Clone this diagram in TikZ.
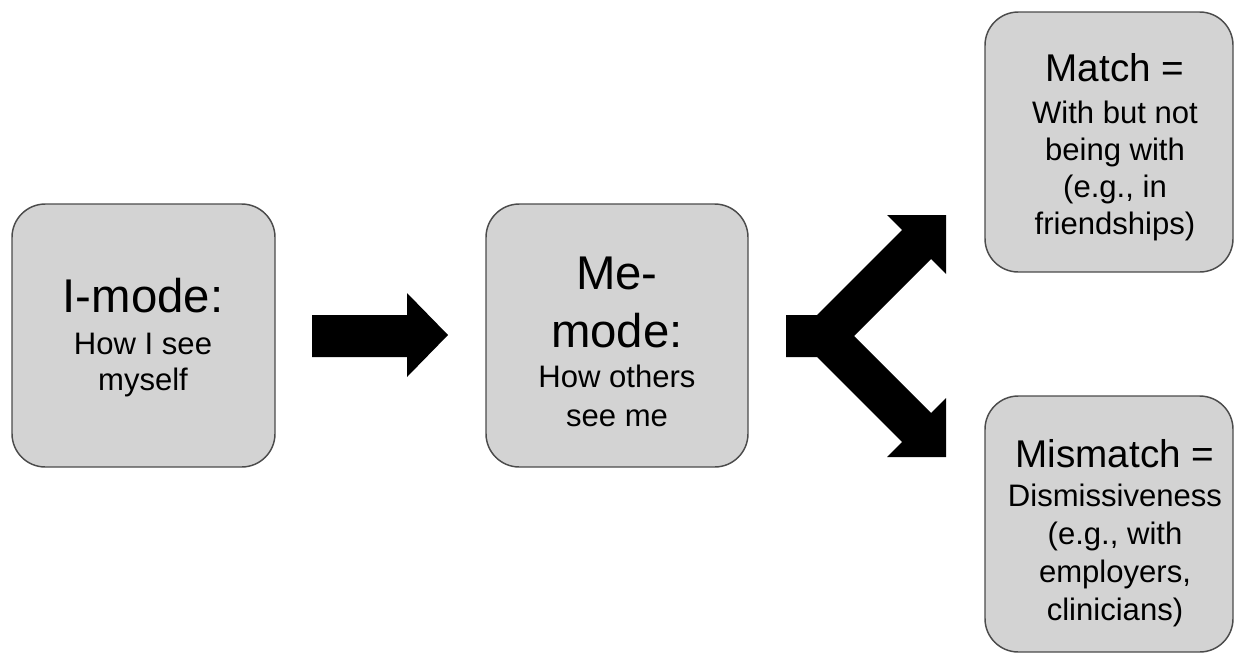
\documentclass[tikz,border=0pt]{standalone}
\usepackage{fontspec}
\setmainfont{Liberation Sans}
\definecolor{boxfill}{RGB}{211,211,211}
\definecolor{boxline}{RGB}{75,75,75}
% heading sizes
\newcommand\hdBig{\fontsize{35.5}{28}\selectfont}
\newcommand\hdMid{\fontsize{29}{28}\selectfont}
\begin{document}
\begin{tikzpicture}[x=0.75pt,y=-0.75pt,
  modebox/.style={draw=boxline, fill=boxfill, line width=1.1pt,
    rounded corners=25pt, inner sep=0pt},
  boxtext/.style={align=center, inner sep=0pt},
  blockarrow/.style={fill=black, draw=none}]
\useasboundingbox (0,0) rectangle (1235,654);

% the four rounded boxes
\node[modebox, minimum width=197.25pt, minimum height=197.25pt] (imode) at (143.5,335.5) {};
\node[modebox, minimum width=196.5pt, minimum height=197.25pt] (memode) at (617,335.5) {};
\node[modebox, minimum width=186pt, minimum height=195pt] (match) at (1109,142) {};
\node[modebox, minimum width=186pt, minimum height=192pt] (mismatch) at (1109,524) {};

% their texts
\node[boxtext, font={\fontsize{23.3}{26.5}\selectfont}] (imode-txt) at (143,337.7)
  {\hdBig I-mode:\\[5pt]How I see\\myself};
\node[boxtext, font={\fontsize{23.3}{29}\selectfont}] (memode-txt) at (617,342.1)
  {\hdBig Me-\\[14.5pt]\hdBig mode:\\[1pt]How others\\see me};
\node[boxtext, font={\fontsize{23.3}{27.75}\selectfont}] (match-txt) at (1115,147.7)
  {\hdMid Match =\\[3.75pt]With but not\\being with\\(e.g., in\\friendships)};
\node[boxtext, font={\fontsize{23.3}{28.5}\selectfont}] (mismatch-txt) at (1115,532.7)
  {\hdMid Mismatch =\\[0.75pt]Dismissiveness\\(e.g., with\\employers,\\clinicians)};

% straight block arrow
\fill[blockarrow] (312,315) -- (407,315) -- (407,293) -- (448,335)
  -- (407,377) -- (407,357) -- (312,357) -- cycle;

% forked block arrow
\fill[blockarrow] (786,315) -- (817,315) -- (902,230) -- (887,215) -- (946,215)
  -- (946,274) -- (931,259) -- (854,336) -- (931,413) -- (946,398)
  -- (946,457) -- (887,457) -- (902,442) -- (817,357) -- (786,357) -- cycle;
\end{tikzpicture}
\end{document}
